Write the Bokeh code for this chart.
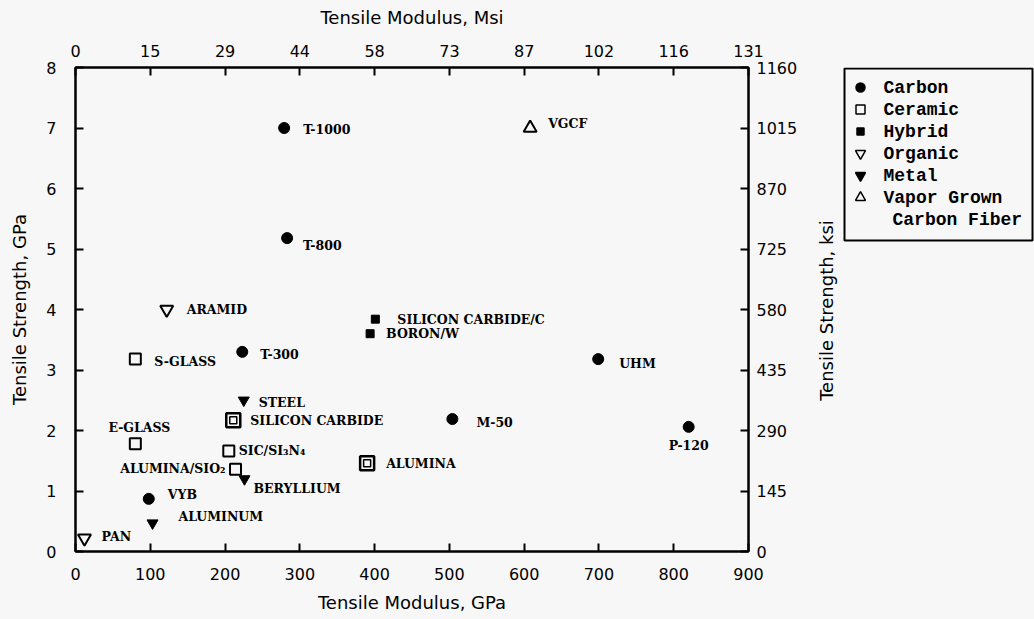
from bokeh.plotting import figure
from bokeh.layouts import row
from bokeh.models import LinearAxis, FixedTicker, Range1d, ColumnDataSource
from bokeh.core.properties import value
from bokeh.embed import file_html
from bokeh.resources import INLINE

# ---------------- data ----------------
gpa_ticks = [0, 100, 200, 300, 400, 500, 600, 700, 800, 900]
msi_labels = ["0", "15", "29", "44", "58", "73", "87", "102", "116", "131"]
strength_ticks = [0, 1, 2, 3, 4, 5, 6, 7, 8]
ksi_labels = ["0", "145", "290", "435", "580", "725", "870", "1015", "1160"]

carbon_names = ["T-1000", "T-800", "T-300", "M-50", "UHM", "P-120", "VYB"]
carbon_mod = [279, 283, 223, 504, 699, 820, 98]
carbon_str = [7.0, 5.18, 3.3, 2.19, 3.18, 2.06, 0.87]

ceramic_names = ["S-GLASS", "E-GLASS", "SILICON CARBIDE", "SIC/SI\u2083N\u2084",
                 "ALUMINA/SIO\u2082", "ALUMINA"]
ceramic_mod = [80, 80, 211, 205, 214, 390]
ceramic_str = [3.18, 1.78, 2.17, 1.66, 1.36, 1.46]

hybrid_names = ["SILICON CARBIDE/C", "BORON/W"]
hybrid_mod = [401, 394]
hybrid_str = [3.84, 3.6]

organic_names = ["ARAMID", "PAN"]
organic_mod = [122, 12]
organic_str = [4.0, 0.22]

metal_names = ["STEEL", "BERYLLIUM", "ALUMINUM"]
metal_mod = [225, 226, 103]
metal_str = [2.5, 1.2, 0.47]

vgcf_names = ["VGCF"]
vgcf_mod = [608]
vgcf_str = [7.0]

legend_labels = ["Carbon", "Ceramic", "Hybrid", "Organic", "Metal", "Vapor Grown"]
legend_extra_line = "Carbon Fiber"

# label placement (screen px offsets from marker, alignment)
label_style = {
    "T-1000": (19, 1, "left"), "T-800": (16, 7, "left"), "T-300": (18, 3, "left"),
    "M-50": (24, 3, "left"), "UHM": (21, 4, "left"), "P-120": (0, 19, "center"),
    "VYB": (19, -4, "left"), "S-GLASS": (19, 2, "left"), "E-GLASS": (4, -16, "center"),
    "SILICON CARBIDE": (17, 0, "left"), "SIC/SI\u2083N\u2084": (10, -1, "left"),
    "ALUMINA/SIO\u2082": (-10, -1, "right"), "ALUMINA": (19, 0, "left"),
    "SILICON CARBIDE/C": (22, 0, "left"), "BORON/W": (16, 0, "left"),
    "ARAMID": (20, 0, "left"), "PAN": (17, -2, "left"), "STEEL": (15, 2, "left"),
    "BERYLLIUM": (9, 10, "left"), "ALUMINUM": (26, -7, "left"), "VGCF": (18, -5, "left"),
}
bold_ceramics = ["SILICON CARBIDE", "ALUMINA"]

BG = "#f7f7f7"
TICK_FONT = "DejaVu Sans"
H = 615
TOP, BOTTOM = 67, 64          # borders of the main plot frame

# ---------------- main plot ----------------
p = figure(width=800, height=H,
           x_range=Range1d(0, 900), y_range=Range1d(0, 8),
           output_backend="svg", toolbar_location=None,
           min_border_left=75, min_border_top=TOP, min_border_right=52,
           min_border_bottom=BOTTOM,
           background_fill_color=BG, border_fill_color=BG,
           outline_line_color="black", outline_line_width=2)
p.xgrid.visible = False
p.ygrid.visible = False

top_axis = LinearAxis(axis_label="Tensile Modulus, Msi")
right_axis = LinearAxis()
p.add_layout(top_axis, "above")
p.add_layout(right_axis, "right")

p.below[0].axis_label = "Tensile Modulus, GPa"
p.left[0].axis_label = "Tensile Strength, GPa"

for ax in p.below + p.above:
    ax.ticker = FixedTicker(ticks=gpa_ticks)
for ax in p.left + p.right:
    ax.ticker = FixedTicker(ticks=strength_ticks)
top_axis.major_label_overrides = dict(zip(gpa_ticks, msi_labels))
right_axis.major_label_overrides = dict(zip(strength_ticks, ksi_labels))

for ax in p.below + p.above + p.left + p.right:
    ax.axis_line_width = 2
    ax.axis_line_color = "black"
    ax.major_tick_in = 8
    ax.major_tick_out = 0
    ax.major_tick_line_width = 2
    ax.minor_tick_line_color = None
    ax.major_label_text_font = TICK_FONT
    ax.major_label_text_font_size = "16px"
    ax.major_label_text_color = "black"
    ax.axis_label_text_font = TICK_FONT
    ax.axis_label_text_font_size = "18px"
    ax.axis_label_text_font_style = "normal"
    ax.axis_label_text_color = "black"

p.below[0].major_label_standoff = 16
p.below[0].axis_label_standoff = 9
top_axis.major_label_standoff = 11
top_axis.axis_label_standoff = 14
p.left[0].major_label_standoff = 19
p.left[0].axis_label_standoff = 13
right_axis.major_label_standoff = 8

# markers
p.scatter(carbon_mod, carbon_str, marker="circle", size=11,
          fill_color="black", line_color="black")
bold_mod = [m for n, m in zip(ceramic_names, ceramic_mod) if n in bold_ceramics]
bold_str = [s for n, s in zip(ceramic_names, ceramic_str) if n in bold_ceramics]
plain_mod = [m for n, m in zip(ceramic_names, ceramic_mod) if n not in bold_ceramics]
plain_str = [s for n, s in zip(ceramic_names, ceramic_str) if n not in bold_ceramics]
p.scatter(plain_mod, plain_str, marker="square", size=11,
          fill_color=None, line_color="black", line_width=2)
p.scatter(bold_mod, bold_str, marker="square", size=14,
          fill_color=None, line_color="black", line_width=2.5)
p.scatter(bold_mod, bold_str, marker="square", size=7,
          fill_color=None, line_color="black", line_width=1.5)
p.scatter(hybrid_mod, hybrid_str, marker="square", size=8,
          fill_color="black", line_color="black")
p.scatter(organic_mod, organic_str, marker="inverted_triangle", size=13,
          fill_color=None, line_color="black", line_width=2)
p.scatter(metal_mod, metal_str, marker="inverted_triangle", size=11,
          fill_color="black", line_color="black")
p.scatter(vgcf_mod, vgcf_str, marker="triangle", size=13,
          fill_color=None, line_color="black", line_width=2)

# point labels
all_names = carbon_names + ceramic_names + hybrid_names + organic_names + metal_names + vgcf_names
all_x = carbon_mod + ceramic_mod + hybrid_mod + organic_mod + metal_mod + vgcf_mod
all_y = carbon_str + ceramic_str + hybrid_str + organic_str + metal_str + vgcf_str
src = ColumnDataSource(dict(
    x=all_x, y=all_y, text=all_names,
    dx=[label_style[n][0] for n in all_names],
    dy=[label_style[n][1] for n in all_names],
    align=[label_style[n][2] for n in all_names],
))
p.text(x="x", y="y", text="text", x_offset="dx", y_offset="dy", text_align="align",
       text_baseline="middle", text_font=value("DejaVu Serif"),
       text_font_style="bold", text_font_size="12.5px", text_color="black", source=src)

# ---------------- side panel: right-axis title + legend ----------------
# the row aligns this panel's frame with the main frame, so its y range is
# expressed in page pixels of that frame (top = TOP, bottom = H - BOTTOM)
W2 = 234
q = figure(width=W2, height=H, x_range=Range1d(0, W2), y_range=Range1d(H - BOTTOM, TOP),
           output_backend="svg", toolbar_location=None,
           min_border_left=0, min_border_right=0,
           min_border_top=TOP, min_border_bottom=BOTTOM,
           background_fill_color=BG, border_fill_color=BG,
           outline_line_color=None)
q.axis.visible = False
q.grid.visible = False

q.text(x=[26], y=[310], text=["Tensile Strength, ksi"], angle=90, angle_units="deg",
       text_align="center", text_baseline="middle", text_font=value(TICK_FONT),
       text_font_size="18px", text_color="black")

# legend frame
q.quad(left=[44], right=[W2 - 2], top=[68], bottom=[240],
       fill_color=None, line_color="black", line_width=2)

row_y = [87 + 22 * i for i in range(len(legend_labels))]
leg_src = ColumnDataSource(dict(
    x=[60] * len(legend_labels), y=row_y, label=legend_labels,
    marker=["circle", "square", "square", "inverted_triangle", "inverted_triangle", "triangle"],
    fill=["black", None, "black", None, "black", None],
    size=[9, 9, 7, 10, 10, 10],
))
q.scatter(x="x", y="y", marker="marker", size="size", fill_color="fill",
          line_color="black", line_width=1.5, source=leg_src)
q.text(x=[83] * len(legend_labels), y=row_y, text=legend_labels,
       text_baseline="middle", text_align="left",
       text_font=value("Liberation Mono"), text_font_style="bold",
       text_font_size="18px", text_color="black")
q.text(x=[92], y=[row_y[-1] + 22], text=[legend_extra_line],
       text_baseline="middle", text_align="left",
       text_font=value("Liberation Mono"), text_font_style="bold",
       text_font_size="18px", text_color="black")

layout = row(p, q, spacing=0)

html = file_html(layout, INLINE)
html = html.replace("<body>", '<body style="background:%s">' % BG)
open("out.html", "w").write(html)
